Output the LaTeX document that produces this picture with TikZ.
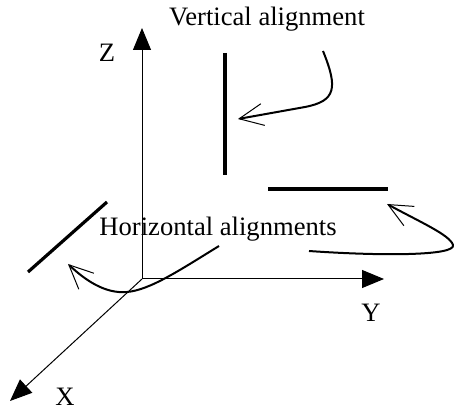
\documentclass[tikz,border=0pt]{standalone}
\usepackage{fontspec}
\setmainfont{Liberation Serif}
\usetikzlibrary{arrows.meta}
\tikzset{
  axis/.style={line width=0.5pt, -{Triangle[length=11pt,width=9pt]}},
  seg/.style={line width=1.6pt},
  pointer/.style={line width=1pt, -{Straight Barb[length=12pt,width=11pt,line width=0.5pt]}},
  lbl/.style={anchor=base, inner sep=0pt, font=\fontsize{13.3}{16}\selectfont}
}

\begin{document}
\begin{tikzpicture}[x=0.5pt, y=-0.5pt]
\useasboundingbox (0,0) rectangle (454,410);
% axes
\coordinate (O) at (142,279);
\coordinate (zt) at (142,28);
\coordinate (yt) at (384,279);
\coordinate (xt) at (10,401);
\node[lbl] (vlab) at (267,26) {Vertical alignment};
\node[lbl] (hlab) at (218,236) {Horizontal alignments};
\node[lbl] (zlab) at (107,62) {Z};
\node[lbl] (ylab) at (371,322) {Y};
\node[lbl] (xlab) at (65,405) {X};
\draw[axis] (O)--(zt); \draw[axis] (O)--(yt); \draw[axis] (O)--(xt);
% alignments
\coordinate (v1) at (225,53); \coordinate (v2) at (225,175);
\coordinate (h1) at (268,189); \coordinate (h2) at (388,189);
\coordinate (d1) at (28,272); \coordinate (d2) at (107,202);
\draw[seg] (v1)--(v2); \draw[seg] (h1)--(h2); \draw[seg] (d1)--(d2);
% pointers
\coordinate (vs) at (323,51); \coordinate (ve) at (238,119);
\coordinate (rs) at (309,251); \coordinate (re) at (387,204);
\coordinate (ls) at (219,246); \coordinate (le) at (68,264);
\draw[pointer] (vs) .. controls (338,88) and (336,101) .. (305,107) -- (ve);
\draw[pointer] (rs) .. controls (380,256) and (456,256) .. (453,245) .. controls (450,235) and (420,222) .. (re);
\draw[pointer] (ls) .. controls (180,270) and (150,290) .. (127,292) .. controls (105,294) and (85,280) .. (le);
\end{tikzpicture}
\end{document}
